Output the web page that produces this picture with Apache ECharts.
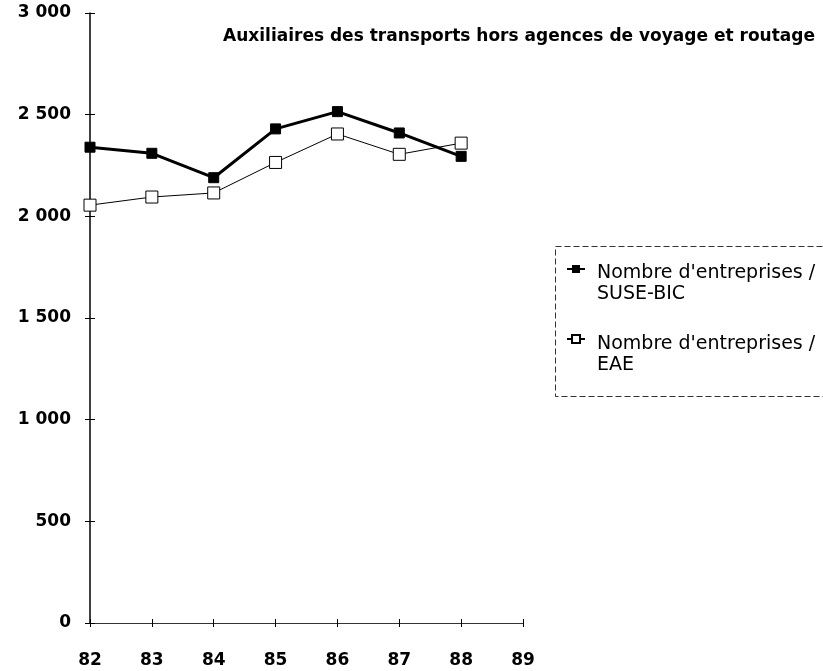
<!DOCTYPE html>
<html><head><meta charset="utf-8">
<script src="https://cdn.jsdelivr.net/npm/echarts@6/dist/echarts.min.js"></script>
<style>html,body{margin:0;padding:0;background:#fff}#c{width:823px;height:671px}</style>
</head><body><div id="c"></div>
<script>
const years = [82, 83, 84, 85, 86, 87, 88];
const suseBic = [2340, 2310, 2190, 2430, 2515, 2410, 2295];
const eae = [2055, 2095, 2115, 2265, 2405, 2305, 2360];
const seriesNames = ["Nombre d'entreprises /\nSUSE-BIC", "Nombre d'entreprises /\nEAE"];
const chartTitle = "Auxiliaires des transports hors agences de voyage et routage";

const fmt = v => { const s = String(v); return s.length > 3 ? s.slice(0, s.length - 3) + ' ' + s.slice(-3) : s; };
const pairs = arr => years.map((y, i) => [y, arr[i]]);
const font = '"DejaVu Sans", "Liberation Sans", Arial, sans-serif';

const chart = echarts.init(document.getElementById('c'));
const tickStyle = { color: '#000', width: 1 };
chart.setOption({
  animation: false,
  backgroundColor: '#fff',
  textStyle: { fontFamily: font },
  title: {
    text: chartTitle, left: 218, top: 23,
    textStyle: { fontFamily: font, fontSize: 17, fontWeight: 'bold', color: '#000' }
  },
  grid: { left: 90, right: 300, top: 13, bottom: 48, containLabel: false },
  xAxis: [{
    type: 'value', min: 82, max: 89, interval: 1,
    axisLine: { lineStyle: { color: '#333', width: 1 } },
    axisTick: { show: true, length: 4, lineStyle: tickStyle },
    axisLabel: { color: '#000', fontSize: 17, fontWeight: 'bold', margin: 29, fontFamily: font },
    splitLine: { show: false }
  }, {
    type: 'value', min: 82, max: 89, interval: 1, position: 'bottom', offset: 0,
    axisLine: { show: true, lineStyle: { opacity: 0 } },
    axisTick: { show: true, inside: true, length: 4, lineStyle: tickStyle },
    axisLabel: { show: false }, splitLine: { show: false }
  }],
  yAxis: [{
    type: 'value', min: 0, max: 3000, interval: 500,
    axisLine: { show: true, lineStyle: { color: '#000', width: 1.5 } },
    axisTick: { show: true, length: 5, lineStyle: tickStyle },
    axisLabel: { color: '#000', fontSize: 17, fontWeight: 'bold', margin: 19, formatter: fmt, fontFamily: font },
    splitLine: { show: false }
  }, {
    type: 'value', min: 0, max: 3000, interval: 500, position: 'left', offset: 0,
    axisLine: { show: true, lineStyle: { opacity: 0 } },
    axisTick: { show: true, inside: true, length: 5, lineStyle: tickStyle },
    axisLabel: { show: false }, splitLine: { show: false }
  }],
  graphic: [{
    type: 'rect', left: 553, top: 244, silent: true,
    shape: { width: 300, height: 150 },
    style: { fill: 'none', stroke: '#333', lineWidth: 1, lineDash: [6, 3] }
  }],
  legend: [{
    orient: 'vertical', left: 566, top: 264,
    padding: 0, itemGap: 61, itemWidth: 18, itemHeight: 10,
    formatter: () => '',
    textStyle: { fontSize: 1 },
    data: seriesNames
  }, {
    orient: 'vertical', left: 592, top: 263,
    padding: 0, itemGap: 29, itemWidth: 0, itemHeight: 0, icon: 'none',
    textStyle: { fontSize: 19, color: '#000', fontFamily: font, lineHeight: 21 },
    data: seriesNames
  }],
  series: [
    {
      name: seriesNames[0], type: 'line', data: pairs(suseBic),
      symbol: 'rect', symbolSize: 10,
      lineStyle: { color: '#000', width: 3 },
      itemStyle: { color: '#000', borderColor: '#000' }
    },
    {
      name: seriesNames[1], type: 'line', data: pairs(eae),
      symbol: 'rect', symbolSize: 12,
      lineStyle: { color: '#000', width: 1 },
      itemStyle: { color: '#fff', borderColor: '#000', borderWidth: 1 }
    },
    {
      name: 'ticks', type: 'line', data: [], xAxisIndex: 1, yAxisIndex: 1, silent: true
    }
  ]
});
</script></body></html>
